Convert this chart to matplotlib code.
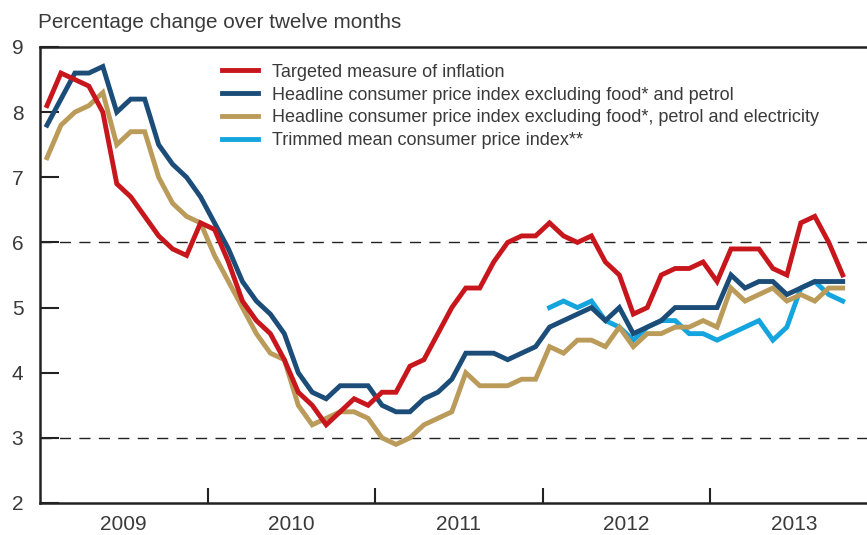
import matplotlib
matplotlib.use("Agg")
import matplotlib.pyplot as plt
import numpy as np

plt.rcParams['font.family'] = ['Liberation Sans', 'DejaVu Sans']

years = ["2009", "2010", "2011", "2012", "2013"]

# Monthly values Jan 2009 - Oct 2013
targeted = [8.1, 8.6, 8.5, 8.4, 8.0, 6.9, 6.7, 6.4, 6.1, 5.9, 5.8, 6.3,
            6.2, 5.7, 5.1, 4.8, 4.6, 4.2, 3.7, 3.5, 3.2, 3.4, 3.6, 3.5,
            3.7, 3.7, 4.1, 4.2, 4.6, 5.0, 5.3, 5.3, 5.7, 6.0, 6.1, 6.1,
            6.3, 6.1, 6.0, 6.1, 5.7, 5.5, 4.9, 5.0, 5.5, 5.6, 5.6, 5.7,
            5.4, 5.9, 5.9, 5.9, 5.6, 5.5, 6.3, 6.4, 6.0, 5.5]
excl_food_petrol = [7.8, 8.2, 8.6, 8.6, 8.7, 8.0, 8.2, 8.2, 7.5, 7.2, 7.0, 6.7,
                    6.3, 5.9, 5.4, 5.1, 4.9, 4.6, 4.0, 3.7, 3.6, 3.8, 3.8, 3.8,
                    3.5, 3.4, 3.4, 3.6, 3.7, 3.9, 4.3, 4.3, 4.3, 4.2, 4.3, 4.4,
                    4.7, 4.8, 4.9, 5.0, 4.8, 5.0, 4.6, 4.7, 4.8, 5.0, 5.0, 5.0,
                    5.0, 5.5, 5.3, 5.4, 5.4, 5.2, 5.3, 5.4, 5.4, 5.4]
excl_food_petrol_elec = [7.3, 7.8, 8.0, 8.1, 8.3, 7.5, 7.7, 7.7, 7.0, 6.6, 6.4, 6.3,
                         5.8, 5.4, 5.0, 4.6, 4.3, 4.2, 3.5, 3.2, 3.3, 3.4, 3.4, 3.3,
                         3.0, 2.9, 3.0, 3.2, 3.3, 3.4, 4.0, 3.8, 3.8, 3.8, 3.9, 3.9,
                         4.4, 4.3, 4.5, 4.5, 4.4, 4.7, 4.4, 4.6, 4.6, 4.7, 4.7, 4.8,
                         4.7, 5.3, 5.1, 5.2, 5.3, 5.1, 5.2, 5.1, 5.3, 5.3]
# Trimmed mean starts Jan 2012 (index 36)
trimmed_start = 36
trimmed = [5.0, 5.1, 5.0, 5.1, 4.8, 4.7, 4.5, 4.7, 4.8, 4.8, 4.6, 4.6,
           4.5, 4.6, 4.7, 4.8, 4.5, 4.7, 5.3, 5.4, 5.2, 5.1]

labels = ["Targeted measure of inflation",
          "Headline consumer price index excluding food* and petrol",
          "Headline consumer price index excluding food*, petrol and electricity",
          "Trimmed mean consumer price index**"]
colors = ["#c8161d", "#1b4d78", "#bb9b5a", "#14a5de"]

fig = plt.figure(figsize=(8.67, 5.35), dpi=100)
ax = fig.add_axes([40/867, 1-503/535, 1-40/867, (503-47)/535])

x = np.arange(len(targeted))
lw = 3.5
ax.axhline(6, color="#222222", lw=1.0, ls=(0, (8, 6)), zorder=1)
ax.axhline(3, color="#222222", lw=1.0, ls=(0, (8, 6)), zorder=1)
ax.plot(np.arange(trimmed_start, trimmed_start+len(trimmed)), trimmed, color=colors[3], lw=lw, label=labels[3], zorder=2, solid_joinstyle='miter')
ax.plot(x, excl_food_petrol_elec, color=colors[2], lw=lw, label=labels[2], zorder=3, solid_joinstyle='miter')
ax.plot(x, excl_food_petrol, color=colors[1], lw=lw, label=labels[1], zorder=4, solid_joinstyle='miter')
ax.plot(x, targeted, color=colors[0], lw=lw, label=labels[0], zorder=5, solid_joinstyle='miter')

ax.set_xlim(-0.5, 58.74)
ax.set_ylim(2, 9)
ax.set_yticks(range(2, 10))
ax.tick_params(axis='y', direction='in', length=14, width=1.5, color="#222222",
               labelsize=15, labelcolor="#3a3a3a", pad=12)

boundaries = [11.5, 23.5, 35.5, 47.5]
centers = [5.5, 17.5, 29.5, 41.5, 53.5]
ax.set_xticks(boundaries)
ax.set_xticklabels([])
ax.set_xticks(centers, minor=True)
ax.set_xticklabels(years, minor=True)
ax.tick_params(axis='x', which='major', direction='in', length=11, width=1.5, color="#222222")
ax.tick_params(axis='x', which='minor', length=0, labelsize=15, labelcolor="#3a3a3a", pad=9)

for s in ['top', 'left', 'bottom']:
    ax.spines[s].set_linewidth(1.8)
    ax.spines[s].set_color("#222222")
ax.spines['right'].set_visible(False)

handles, labs = ax.get_legend_handles_labels()
order = [3, 2, 1, 0]
leg = ax.legend([handles[i] for i in order], [labs[i] for i in order],
                loc='upper left', bbox_to_anchor=(0.211, 0.979), frameon=False,
                handlelength=2.0, handletextpad=0.8, labelspacing=0.32,
                fontsize=13, borderaxespad=0)
for t in leg.get_texts():
    t.set_color("#3a3a3a")

fig.text(38/867, 1-22/535, "Percentage change over twelve months", fontsize=14.9,
         color="#3a3a3a", va='center', ha='left')

fig.savefig("out.png", dpi=100)
